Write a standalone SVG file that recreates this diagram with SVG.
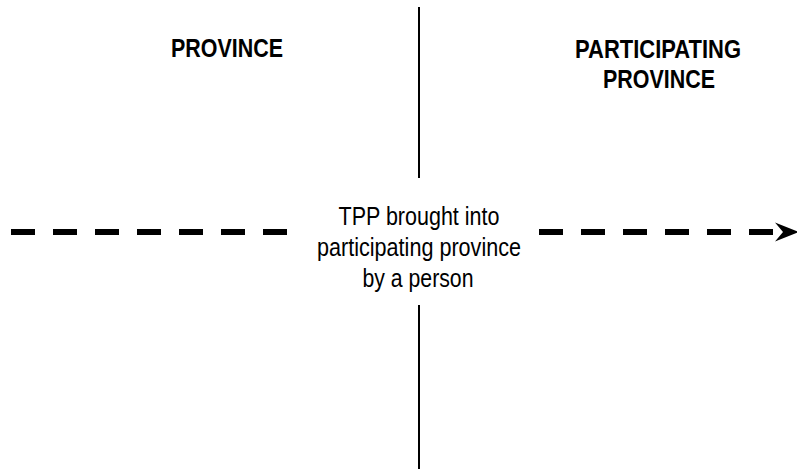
<svg xmlns="http://www.w3.org/2000/svg" width="797" height="472" viewBox="0 0 797 472">
  <style>
    .bg { fill: #ffffff; }
    .head { font-family: "Liberation Sans Narrow", "Arial Narrow", "Liberation Sans", Arial, sans-serif; font-size: 26px; font-weight: bold; fill: #000; text-anchor: middle; }
    .label { font-family: "Liberation Sans Narrow", "Arial Narrow", "Liberation Sans", Arial, sans-serif; font-size: 26px; fill: #000; text-anchor: middle; }
    .divider { stroke: #000; stroke-width: 2; fill: none; }
    .flow { stroke: #000; stroke-width: 6; stroke-dasharray: 24 18; fill: none; }
  </style>
  <defs>
    <marker id="arrowHead" markerUnits="userSpaceOnUse" markerWidth="25" markerHeight="20" viewBox="0 0 25 20" refX="0" refY="9.5" orient="auto" overflow="visible">
      <path d="M0,0 L24,9.5 L0,19 L8,9.5 Z" fill="#000"/>
    </marker>
  </defs>

  <rect class="bg" x="0" y="0" width="797" height="472"/>

  <!-- border between the two provinces and the movement across it -->
  <g id="connectors">
    <line class="divider" x1="419" y1="7" x2="419" y2="178"/>
    <line class="divider" x1="419" y1="305" x2="419" y2="469"/>
    <line class="flow" x1="11" y1="232" x2="287" y2="232"/>
    <line class="flow" x1="539" y1="232" x2="775" y2="232" marker-end="url(#arrowHead)"/>
  </g>

  <g id="province">
    <text class="head" x="227" y="57" textLength="112" lengthAdjust="spacingAndGlyphs">PROVINCE</text>
  </g>

  <g id="participating-province">
    <text class="head" x="658" y="58" textLength="166" lengthAdjust="spacingAndGlyphs">PARTICIPATING</text>
    <text class="head" x="659" y="88" textLength="112" lengthAdjust="spacingAndGlyphs">PROVINCE</text>
  </g>

  <g id="tpp-label">
    <text class="label" x="419" y="225" textLength="161" lengthAdjust="spacingAndGlyphs">TPP brought into</text>
    <text class="label" x="419" y="256" textLength="204" lengthAdjust="spacingAndGlyphs">participating province</text>
    <text class="label" x="418" y="287" textLength="111" lengthAdjust="spacingAndGlyphs">by a person</text>
  </g>
</svg>
